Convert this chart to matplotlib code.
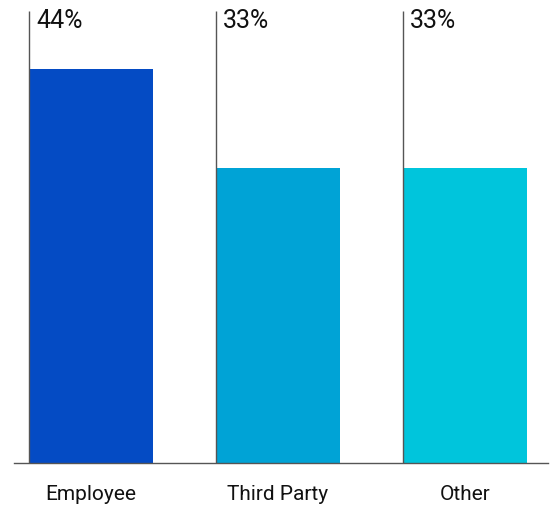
import matplotlib
matplotlib.use("Agg")
import matplotlib.pyplot as plt

categories = ["Employee", "Third Party", "Other"]
values = [44, 33, 33]
labels = ["44%", "33%", "33%"]
colors = ["#044bc4", "#00a3d6", "#00c5dc"]

plt.rcParams['font.family'] = ['Roboto', 'DejaVu Sans']

W, H = 556, 506
fig = plt.figure(figsize=(W / 100, H / 100), dpi=100)
ax = fig.add_axes([14 / W, 42 / H, 534 / W, 464 / H])

px_per_unit_y = 8.95
ymax = 464 / px_per_unit_y
bw = 124 / 187
xs = list(range(len(categories)))

ax.bar(xs, values, width=bw, color=colors, zorder=2)
ax.set_xlim(-(91 - 14) / 187, 2 + (548 - 465) / 187)
ax.set_ylim(0, ymax)

top_line = (464 - 12) / px_per_unit_y
label_y = (464 - 21) / px_per_unit_y
cat_y = (464 - 495) / px_per_unit_y
for x, lab, cat in zip(xs, labels, categories):
    left = x - bw / 2
    ax.plot([left, left], [0, top_line], color="#555555", lw=1.0, zorder=3,
            solid_capstyle='butt')
    ax.text(left + 7 / 187, label_y, lab, fontsize=18, color="#111111",
            ha='left', va='center')
    ax.text(x, cat_y, cat, fontsize=15, color="#111111", ha='center',
            va='center', clip_on=False)

for s in ['top', 'right', 'left']:
    ax.spines[s].set_visible(False)
ax.spines['bottom'].set_color("#555555")
ax.spines['bottom'].set_linewidth(1.0)
ax.set_xticks([])
ax.set_yticks([])

fig.savefig("out.png", dpi=100)
